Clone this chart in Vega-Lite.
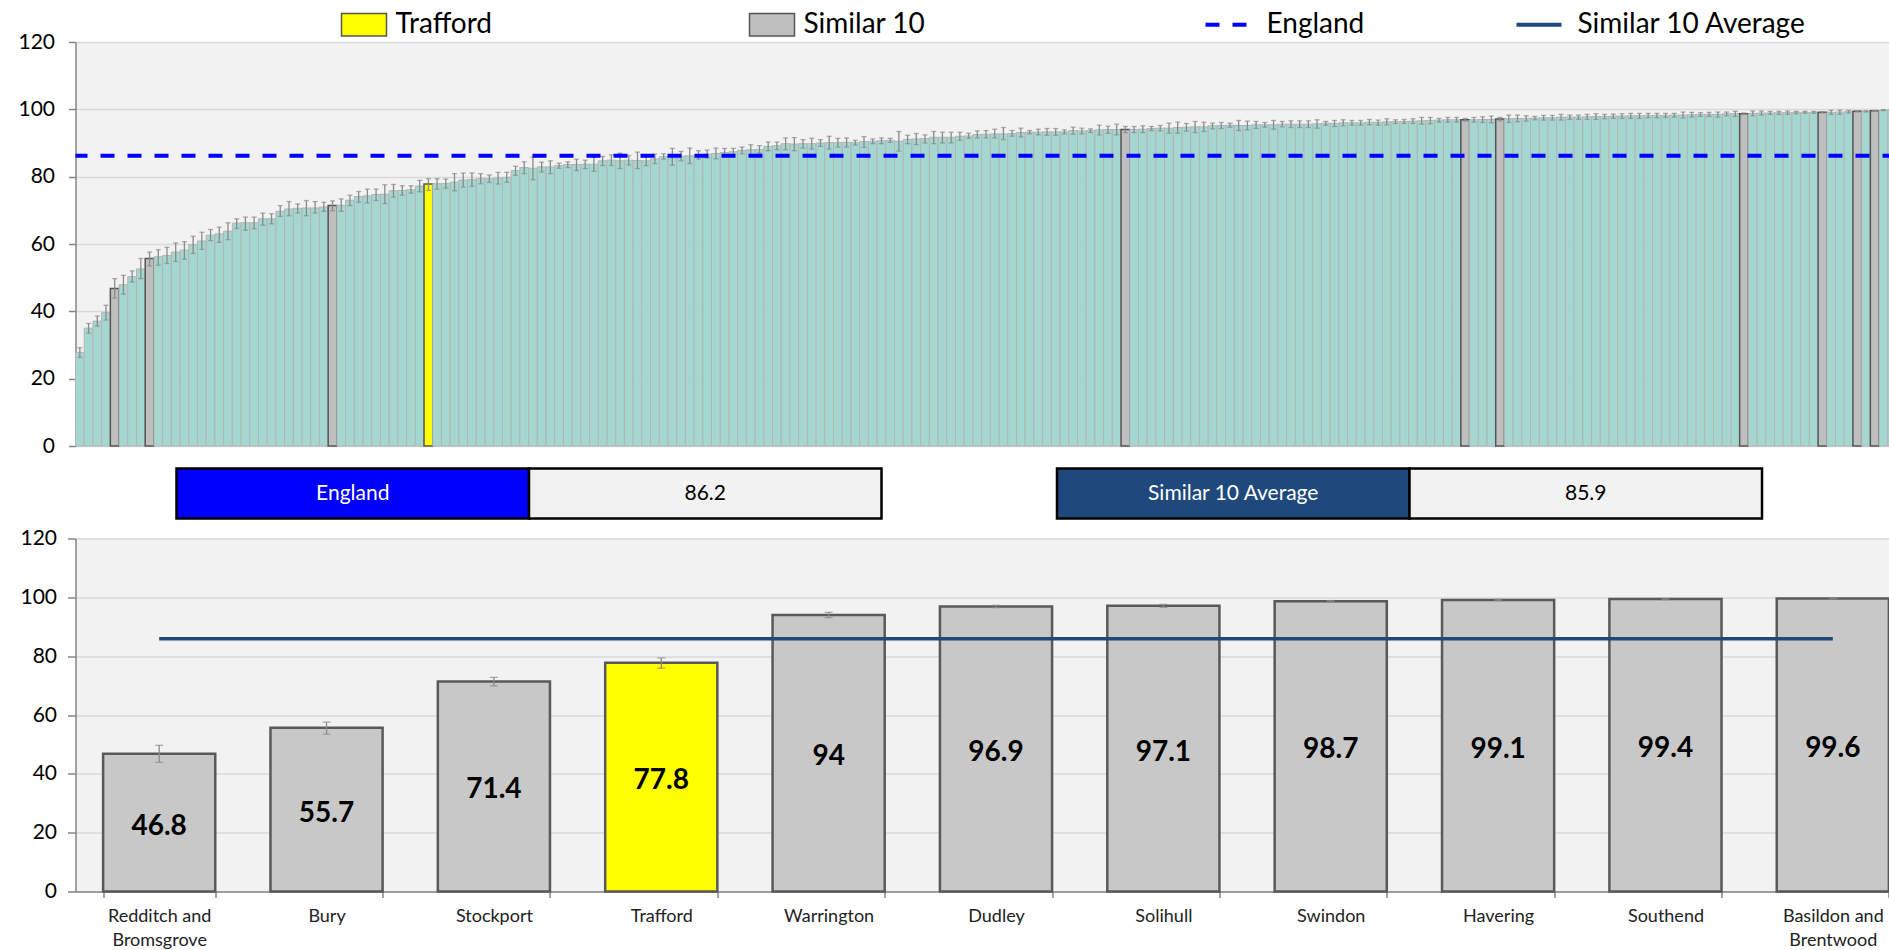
{
"$schema": "https://vega.github.io/schema/vega-lite/v6.json",
"background": "#ffffff",
"padding": {"left": 17.5, "top": 0, "right": 0, "bottom": 0},
"config": {
  "view": {"stroke": null},
  "font": "Lato",
  "axis": {"labelFont": "Lato", "labelColor": "#000000", "domainColor": "#868686", "tickColor": "#868686", "gridColor": "#d9d9d9", "gridWidth": 1.5, "domainWidth": 1.5, "tickWidth": 1.5},
  "legend": {"labelFont": "Lato", "labelColor": "#000000", "padding": 0, "labelLimit": 0}
},
"datasets": {
  "all": [
{"r":0,"v":27.8,"lo":26.3,"hi":29.2,"g":"Other"},
{"r":1,"v":35.0,"lo":33.5,"hi":36.4,"g":"Other"},
{"r":2,"v":37.1,"lo":35.6,"hi":38.6,"g":"Other"},
{"r":3,"v":39.6,"lo":37.4,"hi":41.8,"g":"Other"},
{"r":4,"v":46.8,"lo":43.9,"hi":49.7,"g":"Similar 10"},
{"r":5,"v":47.9,"lo":45.1,"hi":50.7,"g":"Other"},
{"r":6,"v":50.3,"lo":48.7,"hi":52.0,"g":"Other"},
{"r":7,"v":52.6,"lo":49.7,"hi":55.7,"g":"Other"},
{"r":8,"v":55.7,"lo":53.5,"hi":57.6,"g":"Similar 10"},
{"r":9,"v":56.2,"lo":53.7,"hi":58.3,"g":"Other"},
{"r":10,"v":56.6,"lo":54.2,"hi":59.0,"g":"Other"},
{"r":11,"v":57.6,"lo":54.8,"hi":60.3,"g":"Other"},
{"r":12,"v":58.2,"lo":55.5,"hi":60.7,"g":"Other"},
{"r":13,"v":59.8,"lo":57.2,"hi":62.3,"g":"Other"},
{"r":14,"v":60.9,"lo":58.4,"hi":63.5,"g":"Other"},
{"r":15,"v":62.6,"lo":61.0,"hi":64.3,"g":"Other"},
{"r":16,"v":63.0,"lo":60.5,"hi":65.0,"g":"Other"},
{"r":17,"v":63.8,"lo":61.3,"hi":66.3,"g":"Other"},
{"r":18,"v":66.2,"lo":64.6,"hi":67.5,"g":"Other"},
{"r":19,"v":66.3,"lo":64.1,"hi":68.0,"g":"Other"},
{"r":20,"v":66.3,"lo":64.5,"hi":68.0,"g":"Other"},
{"r":21,"v":67.5,"lo":65.6,"hi":69.2,"g":"Other"},
{"r":22,"v":67.5,"lo":66.0,"hi":69.0,"g":"Other"},
{"r":23,"v":69.7,"lo":68.2,"hi":71.4,"g":"Other"},
{"r":24,"v":70.4,"lo":68.4,"hi":72.6,"g":"Other"},
{"r":25,"v":70.6,"lo":69.2,"hi":71.9,"g":"Other"},
{"r":26,"v":70.7,"lo":68.4,"hi":72.9,"g":"Other"},
{"r":27,"v":70.7,"lo":69.2,"hi":72.6,"g":"Other"},
{"r":28,"v":71.0,"lo":69.7,"hi":72.4,"g":"Other"},
{"r":29,"v":71.4,"lo":69.9,"hi":72.8,"g":"Similar 10"},
{"r":30,"v":71.5,"lo":69.7,"hi":73.4,"g":"Other"},
{"r":31,"v":73.0,"lo":71.4,"hi":74.5,"g":"Other"},
{"r":32,"v":74.1,"lo":72.4,"hi":75.6,"g":"Other"},
{"r":33,"v":74.3,"lo":72.2,"hi":76.3,"g":"Other"},
{"r":34,"v":74.7,"lo":72.9,"hi":76.3,"g":"Other"},
{"r":35,"v":74.8,"lo":72.0,"hi":77.6,"g":"Other"},
{"r":36,"v":75.8,"lo":73.9,"hi":77.7,"g":"Other"},
{"r":37,"v":75.9,"lo":74.5,"hi":77.3,"g":"Other"},
{"r":38,"v":76.1,"lo":75.1,"hi":77.3,"g":"Other"},
{"r":39,"v":77.2,"lo":75.5,"hi":78.9,"g":"Other"},
{"r":40,"v":77.8,"lo":75.9,"hi":79.4,"g":"Trafford"},
{"r":41,"v":77.9,"lo":76.3,"hi":79.4,"g":"Other"},
{"r":42,"v":78.0,"lo":76.6,"hi":79.3,"g":"Other"},
{"r":43,"v":78.4,"lo":75.8,"hi":80.9,"g":"Other"},
{"r":44,"v":79.0,"lo":76.9,"hi":81.1,"g":"Other"},
{"r":45,"v":79.1,"lo":77.1,"hi":81.1,"g":"Other"},
{"r":46,"v":79.4,"lo":77.9,"hi":80.9,"g":"Other"},
{"r":47,"v":79.4,"lo":78.3,"hi":80.5,"g":"Other"},
{"r":48,"v":79.6,"lo":77.8,"hi":81.3,"g":"Other"},
{"r":49,"v":79.8,"lo":78.3,"hi":81.3,"g":"Other"},
{"r":50,"v":81.8,"lo":80.4,"hi":83.1,"g":"Other"},
{"r":51,"v":82.7,"lo":80.9,"hi":84.4,"g":"Other"},
{"r":52,"v":82.5,"lo":79.1,"hi":85.8,"g":"Other"},
{"r":53,"v":82.9,"lo":81.4,"hi":84.3,"g":"Other"},
{"r":54,"v":82.9,"lo":80.9,"hi":84.7,"g":"Other"},
{"r":55,"v":83.3,"lo":82.5,"hi":84.0,"g":"Other"},
{"r":56,"v":83.6,"lo":82.7,"hi":84.4,"g":"Other"},
{"r":57,"v":83.6,"lo":81.8,"hi":85.2,"g":"Other"},
{"r":58,"v":83.7,"lo":82.4,"hi":84.9,"g":"Other"},
{"r":59,"v":83.7,"lo":81.6,"hi":85.8,"g":"Other"},
{"r":60,"v":84.7,"lo":83.3,"hi":86.0,"g":"Other"},
{"r":61,"v":84.9,"lo":83.3,"hi":86.5,"g":"Other"},
{"r":62,"v":84.7,"lo":82.4,"hi":87.0,"g":"Other"},
{"r":63,"v":84.9,"lo":83.5,"hi":86.3,"g":"Other"},
{"r":64,"v":84.8,"lo":82.4,"hi":87.3,"g":"Other"},
{"r":65,"v":84.7,"lo":83.3,"hi":86.0,"g":"Other"},
{"r":66,"v":85.3,"lo":83.9,"hi":86.7,"g":"Other"},
{"r":67,"v":86.0,"lo":85.2,"hi":86.8,"g":"Other"},
{"r":68,"v":85.9,"lo":83.4,"hi":88.4,"g":"Other"},
{"r":69,"v":86.1,"lo":84.7,"hi":87.5,"g":"Other"},
{"r":70,"v":86.2,"lo":83.9,"hi":88.5,"g":"Other"},
{"r":71,"v":86.5,"lo":85.2,"hi":87.7,"g":"Other"},
{"r":72,"v":86.7,"lo":85.5,"hi":87.9,"g":"Other"},
{"r":73,"v":86.9,"lo":85.3,"hi":88.5,"g":"Other"},
{"r":74,"v":87.2,"lo":86.0,"hi":88.4,"g":"Other"},
{"r":75,"v":87.4,"lo":86.4,"hi":88.4,"g":"Other"},
{"r":76,"v":87.8,"lo":86.8,"hi":88.8,"g":"Other"},
{"r":77,"v":88.0,"lo":86.5,"hi":89.5,"g":"Other"},
{"r":78,"v":88.1,"lo":87.0,"hi":89.2,"g":"Other"},
{"r":79,"v":89.0,"lo":87.7,"hi":90.3,"g":"Other"},
{"r":80,"v":89.2,"lo":88.0,"hi":90.3,"g":"Other"},
{"r":81,"v":89.8,"lo":88.0,"hi":91.5,"g":"Other"},
{"r":82,"v":89.7,"lo":87.7,"hi":91.6,"g":"Other"},
{"r":83,"v":89.8,"lo":88.5,"hi":91.0,"g":"Other"},
{"r":84,"v":89.8,"lo":88.2,"hi":91.4,"g":"Other"},
{"r":85,"v":90.0,"lo":89.0,"hi":91.0,"g":"Other"},
{"r":86,"v":90.1,"lo":88.2,"hi":92.0,"g":"Other"},
{"r":87,"v":90.1,"lo":88.8,"hi":91.4,"g":"Other"},
{"r":88,"v":90.2,"lo":88.8,"hi":91.5,"g":"Other"},
{"r":89,"v":90.1,"lo":89.4,"hi":90.8,"g":"Other"},
{"r":90,"v":90.4,"lo":88.7,"hi":91.9,"g":"Other"},
{"r":91,"v":90.5,"lo":89.8,"hi":91.2,"g":"Other"},
{"r":92,"v":90.7,"lo":89.8,"hi":91.5,"g":"Other"},
{"r":93,"v":90.8,"lo":90.2,"hi":91.4,"g":"Other"},
{"r":94,"v":90.5,"lo":87.6,"hi":93.4,"g":"Other"},
{"r":95,"v":91.1,"lo":89.8,"hi":92.3,"g":"Other"},
{"r":96,"v":91.2,"lo":89.5,"hi":92.8,"g":"Other"},
{"r":97,"v":91.3,"lo":90.0,"hi":92.4,"g":"Other"},
{"r":98,"v":91.7,"lo":89.8,"hi":93.4,"g":"Other"},
{"r":99,"v":91.7,"lo":90.0,"hi":93.2,"g":"Other"},
{"r":100,"v":91.7,"lo":90.0,"hi":93.2,"g":"Other"},
{"r":101,"v":92.0,"lo":90.8,"hi":93.2,"g":"Other"},
{"r":102,"v":92.1,"lo":91.4,"hi":92.9,"g":"Other"},
{"r":103,"v":92.5,"lo":91.5,"hi":93.6,"g":"Other"},
{"r":104,"v":92.6,"lo":91.5,"hi":93.7,"g":"Other"},
{"r":105,"v":92.7,"lo":91.5,"hi":94.1,"g":"Other"},
{"r":106,"v":92.7,"lo":91.0,"hi":94.6,"g":"Other"},
{"r":107,"v":92.8,"lo":92.0,"hi":93.7,"g":"Other"},
{"r":108,"v":93.1,"lo":91.8,"hi":94.4,"g":"Other"},
{"r":109,"v":93.2,"lo":92.7,"hi":93.7,"g":"Other"},
{"r":110,"v":93.2,"lo":92.4,"hi":94.1,"g":"Other"},
{"r":111,"v":93.3,"lo":92.3,"hi":94.3,"g":"Other"},
{"r":112,"v":93.3,"lo":92.3,"hi":94.3,"g":"Other"},
{"r":113,"v":93.3,"lo":92.7,"hi":93.9,"g":"Other"},
{"r":114,"v":93.7,"lo":92.6,"hi":94.7,"g":"Other"},
{"r":115,"v":93.6,"lo":92.7,"hi":94.4,"g":"Other"},
{"r":116,"v":93.7,"lo":93.1,"hi":94.2,"g":"Other"},
{"r":117,"v":93.9,"lo":92.4,"hi":95.3,"g":"Other"},
{"r":118,"v":94.0,"lo":92.9,"hi":95.0,"g":"Other"},
{"r":119,"v":94.0,"lo":92.4,"hi":95.6,"g":"Other"},
{"r":120,"v":94.0,"lo":93.1,"hi":94.9,"g":"Similar 10"},
{"r":121,"v":94.0,"lo":93.1,"hi":94.9,"g":"Other"},
{"r":122,"v":94.1,"lo":93.1,"hi":95.1,"g":"Other"},
{"r":123,"v":94.3,"lo":93.7,"hi":94.9,"g":"Other"},
{"r":124,"v":94.4,"lo":93.6,"hi":95.2,"g":"Other"},
{"r":125,"v":94.4,"lo":92.9,"hi":95.9,"g":"Other"},
{"r":126,"v":94.6,"lo":92.9,"hi":96.2,"g":"Other"},
{"r":127,"v":94.7,"lo":93.5,"hi":95.8,"g":"Other"},
{"r":128,"v":94.8,"lo":93.1,"hi":96.4,"g":"Other"},
{"r":129,"v":94.8,"lo":93.4,"hi":96.2,"g":"Other"},
{"r":130,"v":95.1,"lo":94.2,"hi":95.9,"g":"Other"},
{"r":131,"v":95.2,"lo":94.3,"hi":96.1,"g":"Other"},
{"r":132,"v":95.3,"lo":94.7,"hi":95.9,"g":"Other"},
{"r":133,"v":95.2,"lo":93.7,"hi":96.7,"g":"Other"},
{"r":134,"v":95.2,"lo":93.9,"hi":96.5,"g":"Other"},
{"r":135,"v":95.4,"lo":94.3,"hi":96.4,"g":"Other"},
{"r":136,"v":95.4,"lo":94.7,"hi":96.1,"g":"Other"},
{"r":137,"v":95.4,"lo":94.1,"hi":96.7,"g":"Other"},
{"r":138,"v":95.6,"lo":94.8,"hi":96.4,"g":"Other"},
{"r":139,"v":95.6,"lo":94.6,"hi":96.6,"g":"Other"},
{"r":140,"v":95.6,"lo":94.6,"hi":96.6,"g":"Other"},
{"r":141,"v":95.6,"lo":94.6,"hi":96.6,"g":"Other"},
{"r":142,"v":95.7,"lo":94.4,"hi":96.9,"g":"Other"},
{"r":143,"v":95.9,"lo":95.3,"hi":96.4,"g":"Other"},
{"r":144,"v":95.8,"lo":94.9,"hi":96.7,"g":"Other"},
{"r":145,"v":96.0,"lo":95.1,"hi":96.9,"g":"Other"},
{"r":146,"v":96.0,"lo":95.3,"hi":96.7,"g":"Other"},
{"r":147,"v":96.0,"lo":95.3,"hi":96.7,"g":"Other"},
{"r":148,"v":96.2,"lo":95.4,"hi":97.0,"g":"Other"},
{"r":149,"v":96.1,"lo":95.3,"hi":96.8,"g":"Other"},
{"r":150,"v":96.3,"lo":95.4,"hi":97.2,"g":"Other"},
{"r":151,"v":96.3,"lo":95.8,"hi":96.9,"g":"Other"},
{"r":152,"v":96.4,"lo":95.8,"hi":97.0,"g":"Other"},
{"r":153,"v":96.5,"lo":95.8,"hi":97.2,"g":"Other"},
{"r":154,"v":96.6,"lo":95.6,"hi":97.6,"g":"Other"},
{"r":155,"v":96.7,"lo":95.7,"hi":97.6,"g":"Other"},
{"r":156,"v":96.8,"lo":96.2,"hi":97.3,"g":"Other"},
{"r":157,"v":96.9,"lo":96.2,"hi":97.6,"g":"Other"},
{"r":158,"v":96.9,"lo":96.2,"hi":97.6,"g":"Other"},
{"r":159,"v":96.9,"lo":96.5,"hi":97.3,"g":"Similar 10"},
{"r":160,"v":96.9,"lo":96.2,"hi":97.6,"g":"Other"},
{"r":161,"v":97.0,"lo":96.1,"hi":97.8,"g":"Other"},
{"r":162,"v":97.0,"lo":96.0,"hi":98.0,"g":"Other"},
{"r":163,"v":97.1,"lo":96.6,"hi":97.6,"g":"Similar 10"},
{"r":164,"v":97.2,"lo":96.1,"hi":98.3,"g":"Other"},
{"r":165,"v":97.3,"lo":96.3,"hi":98.3,"g":"Other"},
{"r":166,"v":97.3,"lo":96.5,"hi":98.1,"g":"Other"},
{"r":167,"v":97.4,"lo":96.9,"hi":97.9,"g":"Other"},
{"r":168,"v":97.5,"lo":96.8,"hi":98.2,"g":"Other"},
{"r":169,"v":97.5,"lo":96.8,"hi":98.2,"g":"Other"},
{"r":170,"v":97.7,"lo":96.8,"hi":98.5,"g":"Other"},
{"r":171,"v":97.7,"lo":97.0,"hi":98.3,"g":"Other"},
{"r":172,"v":97.7,"lo":97.0,"hi":98.3,"g":"Other"},
{"r":173,"v":97.8,"lo":97.0,"hi":98.5,"g":"Other"},
{"r":174,"v":97.9,"lo":97.0,"hi":98.7,"g":"Other"},
{"r":175,"v":97.9,"lo":97.2,"hi":98.5,"g":"Other"},
{"r":176,"v":98.0,"lo":97.3,"hi":98.6,"g":"Other"},
{"r":177,"v":98.0,"lo":97.3,"hi":98.7,"g":"Other"},
{"r":178,"v":98.1,"lo":97.3,"hi":98.8,"g":"Other"},
{"r":179,"v":98.1,"lo":97.3,"hi":98.8,"g":"Other"},
{"r":180,"v":98.2,"lo":97.5,"hi":98.8,"g":"Other"},
{"r":181,"v":98.2,"lo":97.5,"hi":98.8,"g":"Other"},
{"r":182,"v":98.2,"lo":97.6,"hi":98.8,"g":"Other"},
{"r":183,"v":98.3,"lo":97.7,"hi":98.8,"g":"Other"},
{"r":184,"v":98.3,"lo":97.4,"hi":99.2,"g":"Other"},
{"r":185,"v":98.4,"lo":97.7,"hi":99.1,"g":"Other"},
{"r":186,"v":98.5,"lo":97.9,"hi":99.0,"g":"Other"},
{"r":187,"v":98.5,"lo":97.9,"hi":99.1,"g":"Other"},
{"r":188,"v":98.5,"lo":97.7,"hi":99.2,"g":"Other"},
{"r":189,"v":98.7,"lo":98.1,"hi":99.2,"g":"Other"},
{"r":190,"v":98.7,"lo":97.9,"hi":99.4,"g":"Other"},
{"r":191,"v":98.7,"lo":98.5,"hi":98.9,"g":"Similar 10"},
{"r":192,"v":98.8,"lo":98.1,"hi":99.5,"g":"Other"},
{"r":193,"v":98.9,"lo":98.3,"hi":99.5,"g":"Other"},
{"r":194,"v":98.9,"lo":98.5,"hi":99.4,"g":"Other"},
{"r":195,"v":99.0,"lo":98.5,"hi":99.4,"g":"Other"},
{"r":196,"v":99.0,"lo":98.5,"hi":99.5,"g":"Other"},
{"r":197,"v":99.1,"lo":98.7,"hi":99.4,"g":"Other"},
{"r":198,"v":99.1,"lo":98.8,"hi":99.4,"g":"Other"},
{"r":199,"v":99.1,"lo":98.8,"hi":99.4,"g":"Other"},
{"r":200,"v":99.1,"lo":98.9,"hi":99.3,"g":"Similar 10"},
{"r":201,"v":99.1,"lo":98.5,"hi":99.7,"g":"Other"},
{"r":202,"v":99.2,"lo":98.5,"hi":99.8,"g":"Other"},
{"r":203,"v":99.3,"lo":98.9,"hi":99.7,"g":"Other"},
{"r":204,"v":99.4,"lo":99.2,"hi":99.6,"g":"Similar 10"},
{"r":205,"v":99.4,"lo":99.2,"hi":99.6,"g":"Other"},
{"r":206,"v":99.6,"lo":99.5,"hi":99.7,"g":"Similar 10"},
{"r":207,"v":99.8,"lo":99.6,"hi":99.9,"g":"Other"},
{"r":208,"v":99.9,"lo":99.8,"hi":100.0,"g":"Other"}
  ],
  "sim": [
{"name":"Redditch and Bromsgrove","v":46.8,"lo":43.9,"hi":49.7},
{"name":"Bury","v":55.7,"lo":53.5,"hi":57.6},
{"name":"Stockport","v":71.4,"lo":69.9,"hi":72.8},
{"name":"Trafford","v":77.8,"lo":75.9,"hi":79.4},
{"name":"Warrington","v":94,"lo":93.1,"hi":94.9},
{"name":"Dudley","v":96.9,"lo":96.5,"hi":97.3},
{"name":"Solihull","v":97.1,"lo":96.6,"hi":97.6},
{"name":"Swindon","v":98.7,"lo":98.5,"hi":98.9},
{"name":"Havering","v":99.1,"lo":98.9,"hi":99.3},
{"name":"Southend","v":99.4,"lo":99.2,"hi":99.6},
{"name":"Basildon and Brentwood","v":99.6,"lo":99.5,"hi":99.7}
  ]
},
"resolve": {"scale": {"x": "independent", "y": "independent", "fill": "independent", "stroke": "independent", "strokeDash": "independent", "color": "independent"}, "legend": {"fill": "independent", "stroke": "independent", "strokeDash": "independent", "color": "independent"}},
"spacing": 10.5,
"vconcat": [
  {
    "width": 1821,
    "height": 404,
    "view": {"fill": "#f2f2f2", "stroke": null},
    "layer": [
      {
        "data": {"name": "all"},
        "mark": {"type": "bar"},
        "encoding": {
          "x": {"field": "r", "type": "ordinal", "axis": null, "scale": {"paddingInner": 0, "paddingOuter": 0}},
          "y": {"field": "v", "type": "quantitative", "scale": {"domain": [0, 120], "nice": false}, "axis": {"title": null, "values": [0, 20, 40, 60, 80, 100, 120], "grid": true, "tickSize": 7, "labelPadding": 14, "labelFontSize": 21}},
          "fill": {"field": "g", "type": "nominal", "scale": {"domain": ["Trafford", "Similar 10", "Other"], "range": ["#ffff00", "#bfbfbf", "#a5d7d1"]},
            "legend": {"values": ["Trafford", "Similar 10"], "orient": "none", "legendX": 265, "legendY": -41, "direction": "horizontal", "title": null,
              "symbolType": "M-1,-0.5H1V0.5H-1Z", "symbolSize": 2025, "symbolStrokeColor": "#555555", "symbolStrokeWidth": 1.5,
              "labelFontSize": 28, "labelOffset": 8, "labelLimit": 0, "columnPadding": 254,
              "encode": {"symbols": {"update": {"stroke": {"value": "#555555"}, "strokeWidth": {"value": 1.5}}}}}},
          "stroke": {"condition": {"test": "datum.g === 'Other'", "value": "#b4b4b4"}, "value": "#555555"},
          "strokeWidth": {"condition": {"test": "datum.g === 'Other'", "value": 1}, "value": 1.5}
        }
      },
      {
        "data": {"name": "all"},
        "mark": {"type": "errorbar", "ticks": true, "size": 5, "thickness": 1.3, "color": "#8a8a8a"},
        "encoding": {
          "x": {"field": "r", "type": "ordinal"},
          "y": {"field": "lo", "type": "quantitative", "title": null},
          "y2": {"field": "hi"}
        }
      },
      {
        "data": {"values": [{"series": "England", "value": 86.2}]},
        "mark": {"type": "rule", "strokeWidth": 4},
        "encoding": {
          "y": {"field": "value", "type": "quantitative", "title": null},
          "stroke": {"field": "series", "type": "nominal", "scale": {"domain": ["England", "Similar 10 Average"], "range": ["#0000ff", "#1f497d"]},
            "legend": {"orient": "none", "legendX": 1128, "legendY": -42, "direction": "horizontal", "title": null, "symbolType": "stroke", "symbolSize": 2025, "symbolStrokeWidth": 4, "labelFontSize": 28, "labelOffset": 14, "labelLimit": 0, "columnPadding": 144}},
          "strokeDash": {"field": "series", "type": "nominal", "scale": {"domain": ["England", "Similar 10 Average"], "range": [[14, 13], [1, 0]]},
            "legend": {"orient": "none", "legendX": 1128, "legendY": -42, "direction": "horizontal", "title": null, "symbolType": "stroke", "symbolSize": 2025, "symbolStrokeWidth": 4, "labelFontSize": 28, "labelOffset": 14, "labelLimit": 0, "columnPadding": 144}}
        }
      }
    ]
  },
  {
    "spacing": 7,
    "vconcat": [
      {
        "spacing": 0,
        "hconcat": [
          {"width": 99, "height": 50, "data": {"values": [{}]}, "mark": {"type": "text", "text": ""}, "encoding": {}},
          {
            "spacing": 171.5,
            "hconcat": [
              {
                "width": 705, "height": 50,
                "data": {"values": [{"part": "label", "text": "England"}, {"part": "value", "text": "86.2"}]},
                "layer": [
                  {"mark": {"type": "rect", "stroke": "#000000", "strokeWidth": 2.5},
                   "encoding": {"x": {"field": "part", "type": "nominal", "sort": null, "axis": null, "scale": {"paddingInner": 0, "paddingOuter": 0}},
                     "fill": {"condition": {"test": "datum.part === 'label'", "value": "#0000ff"}, "value": "#f2f2f2"}}},
                  {"mark": {"type": "text", "fontSize": 21, "font": "Lato"},
                   "encoding": {"x": {"field": "part", "type": "nominal", "sort": null, "axis": null},
                     "text": {"field": "text"},
                     "color": {"condition": {"test": "datum.part === 'label'", "value": "#ffffff"}, "value": "#000000"}}}
                ]
              },
              {
                "width": 705, "height": 50,
                "data": {"values": [{"part": "label", "text": "Similar 10 Average"}, {"part": "value", "text": "85.9"}]},
                "layer": [
                  {"mark": {"type": "rect", "stroke": "#000000", "strokeWidth": 2.5},
                   "encoding": {"x": {"field": "part", "type": "nominal", "sort": null, "axis": null, "scale": {"paddingInner": 0, "paddingOuter": 0}},
                     "fill": {"condition": {"test": "datum.part === 'label'", "value": "#1f497d"}, "value": "#f2f2f2"}}},
                  {"mark": {"type": "text", "fontSize": 21, "font": "Lato"},
                   "encoding": {"x": {"field": "part", "type": "nominal", "sort": null, "axis": null},
                     "text": {"field": "text"},
                     "color": {"condition": {"test": "datum.part === 'label'", "value": "#ffffff"}, "value": "#000000"}}}
                ]
              }
            ]
          }
        ]
      },
      {
        "width": 1841,
        "height": 353,
        "view": {"fill": "#f2f2f2", "stroke": null},
        "data": {"name": "sim"},
        "resolve": {"scale": {"y": "independent"}},
        "layer": [
          {
            "layer": [
              {
                "mark": {"type": "bar", "stroke": "#595959", "strokeWidth": 2.5},
                "encoding": {
                  "x": {"field": "name", "type": "nominal", "sort": null, "scale": {"paddingInner": 0.33, "paddingOuter": 0.165},
                    "axis": {"title": null, "tickBand": "extent", "tickSize": 6, "labelFontSize": 18, "labelPadding": 10, "labelAngle": 0, "labelLineHeight": 24, "labelLimit": 0, "labelColor": "#222222",
                      "labelExpr": "indexof(datum.label, ' and ') > 0 ? [substring(datum.label, 0, indexof(datum.label, ' and ') + 4), substring(datum.label, indexof(datum.label, ' and ') + 5)] : datum.label"}},
                  "y": {"field": "v", "type": "quantitative", "scale": {"domain": [0, 120], "nice": false}, "axis": {"title": null, "values": [0, 20, 40, 60, 80, 100, 120], "grid": true, "tickSize": 8, "labelPadding": 11, "labelFontSize": 21}},
                  "fill": {"condition": {"test": "datum.name === 'Trafford'", "value": "#ffff00"}, "value": "#c8c8c8"}
                }
              },
              {
                "mark": {"type": "errorbar", "ticks": true, "size": 8, "thickness": 1.3, "color": "#8a8a8a"},
                "encoding": {
                  "x": {"field": "name", "type": "nominal", "sort": null},
                  "y": {"field": "lo", "type": "quantitative", "title": null},
                  "y2": {"field": "hi"}
                }
              },
              {
                "mark": {"type": "line", "color": "#1f497d", "strokeWidth": 3.5},
                "encoding": {
                  "x": {"field": "name", "type": "nominal", "sort": null},
                  "y": {"datum": 85.9}
                }
              }
            ]
          },
          {
            "mark": {"type": "text", "fontSize": 28, "fontWeight": "bold", "font": "Lato", "color": "#000000", "dy": 4},
            "encoding": {
              "x": {"field": "name", "type": "nominal", "sort": null},
              "y": {"field": "v", "type": "quantitative", "scale": {"domain": [0, 240], "nice": false}, "axis": null},
              "text": {"field": "v", "type": "quantitative"}
            }
          }
        ]
      }
    ]
  }
]
}
